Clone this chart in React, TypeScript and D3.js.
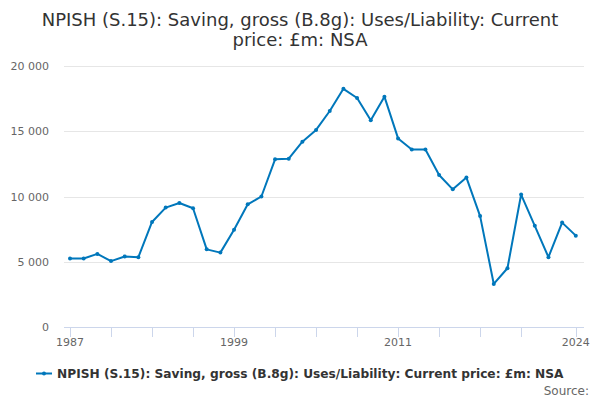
import { useEffect, useRef } from "react";
import * as d3 from "d3";

const TITLE_LINES = [
  "NPISH (S.15): Saving, gross (B.8g): Uses/Liability: Current",
  "price: £m: NSA",
];
const SERIES_NAME =
  "NPISH (S.15): Saving, gross (B.8g): Uses/Liability: Current price: £m: NSA";

const years = d3.range(1987, 2025);
const values = [
  5250, 5250, 5600, 5050, 5400, 5350, 8050, 9150, 9500, 9100, 5950, 5700,
  7450, 9400, 10000, 12850, 12900, 14200, 15100, 16550, 18250, 17550, 15850,
  17650, 14450, 13600, 13600, 11650, 10550, 11450, 8500, 3300, 4500, 10150,
  7750, 5350, 8000, 7000,
];
const yTicks = [0, 5000, 10000, 15000, 20000];
const xTickYears = [1987, 1990, 1993, 1996, 1999, 2002, 2005, 2008, 2011, 2014, 2017, 2020, 2024];
const xLabelYears = [1987, 1999, 2011, 2024];

const FONT = "'DejaVu Sans', sans-serif";
const LINE_COLOR = "#0077bb";

export default function App() {
  const svgRef = useRef<SVGSVGElement>(null);

  useEffect(() => {
    if (!svgRef.current) return;
    const svg = d3.select(svgRef.current);
    svg.selectAll("*").remove();

    const left = 64;
    const right = 584;
    const top = 66;
    const bottom = 327;

    const x = d3.scaleLinear().domain([1986.56, 2024.6]).range([left, right]);
    const y = d3.scaleLinear().domain([0, 20000]).range([bottom, top]);
    const fmt = (v: number) => d3.format(",")(v).replace(/,/g, " ");

    // Title
    svg
      .append("g")
      .selectAll("text")
      .data(TITLE_LINES)
      .join("text")
      .attr("x", 300)
      .attr("y", (_, i) => 26 + i * 20)
      .attr("text-anchor", "middle")
      .attr("fill", "#333333")
      .style("font-family", FONT)
      .style("font-size", "18px")
      .text((d) => d);

    // Gridlines
    svg
      .append("g")
      .selectAll("line")
      .data(yTicks.filter((t) => t > 0))
      .join("line")
      .attr("x1", left)
      .attr("x2", right)
      .attr("y1", (d) => Math.round(y(d)) + 0.5)
      .attr("y2", (d) => Math.round(y(d)) + 0.5)
      .attr("stroke", "#e6e6e6")
      .attr("stroke-width", 1);

    // Y labels
    svg
      .append("g")
      .selectAll("text")
      .data(yTicks)
      .join("text")
      .attr("x", 49)
      .attr("y", (d) => y(d) + 4)
      .attr("text-anchor", "end")
      .attr("fill", "#666666")
      .style("font-family", FONT)
      .style("font-size", "11px")
      .text((d) => fmt(d));

    // X axis
    svg
      .append("line")
      .attr("x1", left)
      .attr("x2", right)
      .attr("y1", bottom + 0.5)
      .attr("y2", bottom + 0.5)
      .attr("stroke", "#ccd6eb");

    svg
      .append("g")
      .selectAll("line")
      .data(xTickYears)
      .join("line")
      .attr("x1", (d) => Math.round(x(d)) + 0.5)
      .attr("x2", (d) => Math.round(x(d)) + 0.5)
      .attr("y1", bottom)
      .attr("y2", bottom + 10)
      .attr("stroke", "#ccd6eb");

    svg
      .append("g")
      .selectAll("text")
      .data(xLabelYears)
      .join("text")
      .attr("x", (d) => x(d))
      .attr("y", 346)
      .attr("text-anchor", "middle")
      .attr("fill", "#666666")
      .style("font-family", FONT)
      .style("font-size", "11px")
      .text((d) => String(d));

    // Series
    const pts = years.map((yr, i) => [yr, values[i]] as [number, number]);
    const line = d3
      .line<[number, number]>()
      .x((d) => x(d[0]))
      .y((d) => y(d[1]));

    svg
      .append("path")
      .datum(pts)
      .attr("d", line)
      .attr("fill", "none")
      .attr("stroke", LINE_COLOR)
      .attr("stroke-width", 2)
      .attr("stroke-linejoin", "round");

    svg
      .append("g")
      .selectAll("circle")
      .data(pts)
      .join("circle")
      .attr("cx", (d) => x(d[0]))
      .attr("cy", (d) => y(d[1]))
      .attr("r", 2)
      .attr("fill", LINE_COLOR);

    // Legend
    const lg = svg.append("g").attr("transform", "translate(36,373)");
    lg.append("line")
      .attr("x1", 0)
      .attr("x2", 16)
      .attr("y1", 0.5)
      .attr("y2", 0.5)
      .attr("stroke", LINE_COLOR)
      .attr("stroke-width", 2);
    lg.append("circle").attr("cx", 8).attr("cy", 0.5).attr("r", 2).attr("fill", LINE_COLOR);
    lg.append("text")
      .attr("x", 21)
      .attr("y", 5)
      .attr("fill", "#333333")
      .style("font-family", FONT)
      .style("font-size", "12.2px")
      .style("font-weight", "bold")
      .text(SERIES_NAME);

    // Source
    svg
      .append("text")
      .attr("x", 589)
      .attr("y", 395)
      .attr("text-anchor", "end")
      .attr("fill", "#666666")
      .style("font-family", FONT)
      .style("font-size", "12px")
      .text("Source:");
  }, []);

  return (
    <svg
      ref={svgRef}
      width={600}
      height={400}
      style={{ position: "absolute", left: 0, top: 0, background: "#ffffff" }}
    />
  );
}
